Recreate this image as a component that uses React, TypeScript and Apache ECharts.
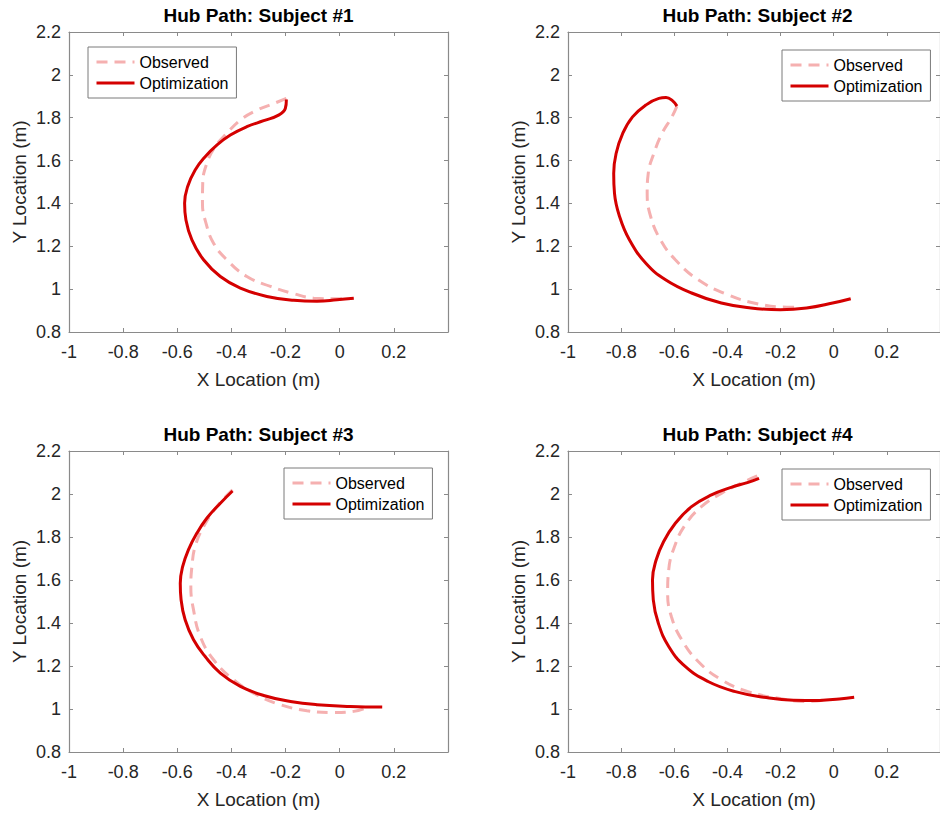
import React, { useEffect, useRef } from "react";
import * as echarts from "echarts";

// ---- Data ----
const xTickMin = -1;
const xTickMax = 0.4;
const yTickMin = 0.8;
const yTickMax = 2.2;
const tickStep = 0.2;

const seriesNames = ["Observed", "Optimization"];
const subjectTitles = [
  "Hub Path: Subject #1",
  "Hub Path: Subject #2",
  "Hub Path: Subject #3",
  "Hub Path: Subject #4",
];

const subject1Observed: number[][] = [
  [-0.197, 1.89], [-0.244, 1.866], [-0.306, 1.835], [-0.367, 1.789], [-0.417, 1.727],
  [-0.46, 1.665], [-0.491, 1.587], [-0.506, 1.494], [-0.507, 1.401], [-0.494, 1.308],
  [-0.466, 1.214], [-0.417, 1.137], [-0.343, 1.059], [-0.256, 1.013], [-0.17, 0.979],
  [-0.096, 0.958], [-0.022, 0.955], [0.027, 0.955],
];
const subject1Optimization: number[][] = [
  [-0.197, 1.885], [-0.201, 1.843], [-0.226, 1.812], [-0.281, 1.786], [-0.343, 1.758],
  [-0.404, 1.719], [-0.454, 1.672], [-0.497, 1.618], [-0.534, 1.556], [-0.562, 1.478],
  [-0.573, 1.401], [-0.568, 1.323], [-0.546, 1.23], [-0.503, 1.137], [-0.441, 1.059],
  [-0.367, 1.005], [-0.269, 0.966], [-0.17, 0.948], [-0.084, 0.944], [-0.01, 0.95],
  [0.052, 0.957],
];

const subject2Observed: number[][] = [
  [-0.59, 1.854], [-0.609, 1.804], [-0.646, 1.727], [-0.677, 1.633], [-0.698, 1.54],
  [-0.702, 1.447], [-0.689, 1.339], [-0.652, 1.23], [-0.596, 1.137], [-0.51, 1.044],
  [-0.399, 0.974], [-0.288, 0.932], [-0.177, 0.916], [-0.126, 0.916],
];
const subject2Optimization: number[][] = [
  [-0.59, 1.854], [-0.609, 1.882], [-0.631, 1.894], [-0.658, 1.89], [-0.707, 1.859],
  [-0.757, 1.804], [-0.794, 1.727], [-0.819, 1.633], [-0.828, 1.54], [-0.825, 1.447],
  [-0.806, 1.339], [-0.769, 1.23], [-0.707, 1.121], [-0.633, 1.044], [-0.535, 0.982],
  [-0.423, 0.935], [-0.312, 0.912], [-0.201, 0.904], [-0.102, 0.912], [-0.004, 0.935],
  [0.064, 0.955],
];

const subject3Observed: number[][] = [
  [-0.396, 2.019], [-0.454, 1.941], [-0.503, 1.848], [-0.534, 1.756], [-0.546, 1.663],
  [-0.55, 1.57], [-0.54, 1.461], [-0.515, 1.337], [-0.466, 1.229], [-0.392, 1.136],
  [-0.306, 1.066], [-0.219, 1.02], [-0.121, 0.992], [-0.022, 0.984], [0.052, 0.989],
  [0.095, 1.004],
];
const subject3Optimization: number[][] = [
  [-0.396, 2.014], [-0.441, 1.957], [-0.491, 1.887], [-0.528, 1.817], [-0.559, 1.74],
  [-0.58, 1.663], [-0.589, 1.585], [-0.586, 1.508], [-0.571, 1.415], [-0.54, 1.322],
  [-0.497, 1.244], [-0.441, 1.167], [-0.367, 1.105], [-0.281, 1.063], [-0.182, 1.035],
  [-0.084, 1.02], [0.039, 1.012], [0.157, 1.009],
];

const subject4Observed: number[][] = [
  [-0.288, 2.084], [-0.349, 2.05], [-0.423, 2.003], [-0.498, 1.941], [-0.559, 1.856],
  [-0.599, 1.756], [-0.621, 1.647], [-0.625, 1.539], [-0.611, 1.43], [-0.572, 1.322],
  [-0.51, 1.221], [-0.423, 1.136], [-0.325, 1.082], [-0.214, 1.051], [-0.102, 1.035],
  [-0.028, 1.043],
];
const subject4Optimization: number[][] = [
  [-0.281, 2.073], [-0.325, 2.053], [-0.386, 2.031], [-0.46, 1.996], [-0.535, 1.941],
  [-0.596, 1.864], [-0.64, 1.779], [-0.668, 1.694], [-0.682, 1.601], [-0.679, 1.508],
  [-0.66, 1.399], [-0.621, 1.291], [-0.559, 1.198], [-0.473, 1.128], [-0.374, 1.082],
  [-0.263, 1.055], [-0.152, 1.041], [-0.053, 1.04], [0.021, 1.047], [0.077, 1.055],
];

const observedData = [subject1Observed, subject2Observed, subject3Observed, subject4Observed];
const optimizationData = [
  subject1Optimization,
  subject2Optimization,
  subject3Optimization,
  subject4Optimization,
];

// ---- Layout / style ----
const gridBoxes = [
  { left: 69, top: 32, width: 379, height: 300 },
  { left: 568, top: 32, width: 379, height: 300 },
  { left: 69, top: 451, width: 379, height: 301 },
  { left: 568, top: 451, width: 379, height: 301 },
];
const legendPos = [
  { left: 88, top: 47 },
  { left: 782, top: 50 },
  { left: 284, top: 468 },
  { left: 782, top: 469 },
];

const FONT = "'Liberation Sans', Arial, Helvetica, sans-serif";
const AXIS_COLOR = "#8a8a8a";
const TEXT_COLOR = "#262626";
const OBS_COLOR = "#f5b0b0";
const OPT_COLOR = "#d40000";

function fmt(v: number): string {
  const r = Math.round(v * 10) / 10;
  return String(r);
}

export default function App() {
  const ref = useRef<HTMLDivElement>(null);

  useEffect(() => {
    document.body.style.margin = "0";
    if (!ref.current) return;
    const chart = echarts.init(ref.current, undefined, { renderer: "svg" });

    const xAxes: any[] = [];
    const yAxes: any[] = [];
    const series: any[] = [];
    const titles: any[] = [];
    const legends: any[] = [];

    gridBoxes.forEach((g, i) => {
      const tick = { show: true, inside: true, length: 4, lineStyle: { color: AXIS_COLOR } };
      const line = { show: true, onZero: false, lineStyle: { color: AXIS_COLOR, width: 1.2 } };
      xAxes.push({
        type: "value",
        gridIndex: i,
        position: "bottom",
        min: xTickMin,
        max: xTickMax,
        interval: tickStep,
        axisLine: line,
        axisTick: tick,
        splitLine: { show: false },
        axisLabel: {
          margin: 11,
          fontSize: 18,
          fontFamily: FONT,
          color: TEXT_COLOR,
          showMaxLabel: false,
          formatter: (v: number) => (Math.abs(v - xTickMax) < 1e-6 ? "" : fmt(v)),
        },
        name: "X Location (m)",
        nameLocation: "middle",
        nameGap: 38,
        nameTextStyle: { fontSize: 19, fontFamily: FONT, color: TEXT_COLOR },
      });
      xAxes.push({
        type: "value",
        gridIndex: i,
        position: "top",
        min: xTickMin,
        max: xTickMax,
        interval: tickStep,
        axisLine: line,
        axisTick: tick,
        axisLabel: { show: false },
        splitLine: { show: false },
      });
      yAxes.push({
        type: "value",
        gridIndex: i,
        position: "left",
        min: yTickMin,
        max: yTickMax,
        interval: tickStep,
        axisLine: line,
        axisTick: tick,
        splitLine: { show: false },
        axisLabel: {
          margin: 8,
          fontSize: 18,
          fontFamily: FONT,
          color: TEXT_COLOR,
          formatter: (v: number) => fmt(v),
        },
        name: "Y Location (m)",
        nameLocation: "middle",
        nameGap: 40,
        nameTextStyle: { fontSize: 19, fontFamily: FONT, color: TEXT_COLOR },
      });
      yAxes.push({
        type: "value",
        gridIndex: i,
        position: "right",
        min: yTickMin,
        max: yTickMax,
        interval: tickStep,
        axisLine: line,
        axisTick: tick,
        axisLabel: { show: false },
        splitLine: { show: false },
      });

      series.push({
        name: seriesNames[0],
        type: "line",
        xAxisIndex: i * 2,
        yAxisIndex: i * 2,
        data: observedData[i],
        symbol: "none",
        smooth: 0.45,
        clip: true,
        lineStyle: { color: OBS_COLOR, width: 3, type: [11, 7] },
        itemStyle: { color: OBS_COLOR },
        z: 2,
      });
      series.push({
        name: seriesNames[1],
        type: "line",
        xAxisIndex: i * 2,
        yAxisIndex: i * 2,
        data: optimizationData[i],
        symbol: "none",
        smooth: 0.45,
        clip: true,
        lineStyle: { color: OPT_COLOR, width: 3 },
        itemStyle: { color: OPT_COLOR },
        z: 3,
      });

      titles.push({
        text: subjectTitles[i],
        left: g.left + g.width / 2,
        top: g.top - 26,
        textAlign: "center",
        padding: 0,
        textStyle: { fontSize: 19, fontWeight: "bold", fontFamily: FONT, color: "#000" },
      });

      legends.push({
        data: seriesNames,
        orient: "vertical",
        left: legendPos[i].left,
        top: legendPos[i].top,
        padding: [7, 8, 7, 7],
        itemWidth: 38,
        itemHeight: 12,
        itemGap: 5,
        borderColor: "#7a7a7a",
        borderWidth: 1,
        backgroundColor: "#fff",
        itemStyle: { opacity: 0 },
        lineStyle: { width: 3 },
        textStyle: { fontSize: 16, fontFamily: FONT, color: "#000" },
        selectedMode: false,
      });
    });

    chart.setOption({
      animation: false,
      backgroundColor: "#fff",
      title: titles,
      legend: legends,
      grid: gridBoxes.map((g) => ({ ...g, containLabel: false })),
      xAxis: xAxes,
      yAxis: yAxes,
      series,
    });

    return () => chart.dispose();
  }, []);

  return <div ref={ref} style={{ width: 940, height: 814 }} />;
}
